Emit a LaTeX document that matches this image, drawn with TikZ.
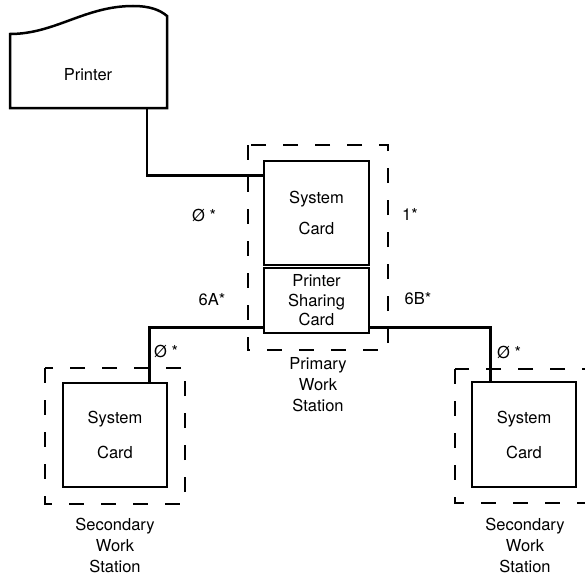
\documentclass[tikz,border=0pt]{standalone}
\usepackage{fontspec}
\setmainfont{TeX Gyre Heros}
\tikzset{
  card/.style={draw,line width=2.6pt,inner sep=0pt,align=center},
  station/.style={line width=2.6pt,dash pattern=on 15pt off 17pt},
  wire/.style={line width=2.5pt},
  caption/.style={align=center}
}
\begin{document}
\begin{tikzpicture}[x=1pt,y=-1pt,font=\fontsize{16.5}{21}\selectfont]
\clip (0,0) rectangle (585,575);
\fill[white] (0,0) rectangle (585,575);
\draw[wire,line join=miter] (10,108) -- (10,34) .. controls (55,34) and (85,6) .. (133,6) .. controls (150,6) and (160,10) .. (167,16) -- (167,108) -- cycle;
\node (prn) at (88,75) {Printer};
\coordinate (prnout) at (147,108);
\node[card,minimum width=105pt,minimum height=104pt] (sys1) at (316.5,213) {System\\[10pt]Card};
\node[card,minimum width=105pt,minimum height=65pt,font=\fontsize{16.5}{19.5}\selectfont] (psc) at (316.5,300.5) {Printer\\Sharing\\Card};
\node[card,minimum width=104pt,minimum height=104pt] (sys2) at (115,435) {System\\[14pt]Card};
\node[card,minimum width=104pt,minimum height=105pt] (sys3) at (524,434.5) {System\\[14pt]Card};
\draw[station] (248,145) rectangle (388,350);
\draw[station] (45,368) rectangle (185,504);
\draw[station] (455,369) rectangle (600,503);
\draw[wire] (prnout) |- ([yshift=-16pt]sys1.north west);
\draw[wire] ([yshift=7pt]psc.south west) -| ([xshift=-19pt]sys2.north east);
\draw[wire] ([yshift=7pt]psc.south east) -| ([xshift=20pt]sys3.north west);
\node (lbl0) at (204,215) {Ø *};
\node (lbl1) at (410,214) {1*};
\node (lbl6a) at (212,300) {6A*};
\node (lbl6b) at (418,299) {6B*};
\node (lbl0a) at (166,351) {Ø *};
\node (lbl0b) at (509,352) {Ø *};
\node[caption] (cap1) at (318,385) {Primary\\Work\\Station};
\node[caption] (cap2) at (115,545) {Secondary\\Work\\Station};
\node[caption] (cap3) at (525,545) {Secondary\\Work\\Station};
\end{tikzpicture}
\end{document}
